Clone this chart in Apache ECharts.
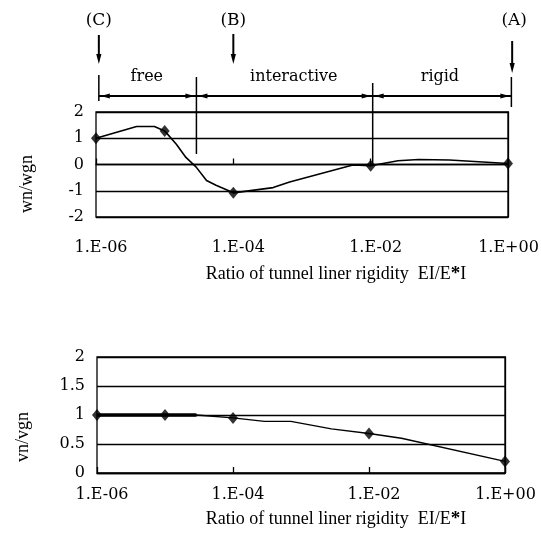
<!DOCTYPE html>
<html><head><meta charset="utf-8">
<script src="https://cdn.jsdelivr.net/npm/echarts@6/dist/echarts.min.js"></script>
<style>html,body{margin:0;padding:0;background:#fff}#c{width:541px;height:551px}</style>
</head><body><div id="c"></div>
<script>
// ---- data ----
const xTickLabels = ['1.E-06', '1.E-04', '1.E-02', '1.E+00'];
const xTickRatios = [1e-6, 1e-4, 1e-2, 1];
const markerRatios = [1e-6, 1e-5, 1e-4, 1e-2, 1];
const wnMarkers = [1.0, 1.28, -1.08, -0.05, 0.04];
const vnMarkers = [1.0, 1.0, 0.95, 0.68, 0.2];
const wnCurveRatios = [1e-6, 3.9e-6, 7.1e-6, 1e-5, 1.48e-5, 2.04e-5, 2.88e-5, 4.07e-5, 5.6e-5, 1e-4, 3.8e-4, 6.6e-4, 5.5e-3, 1e-2, 2.5e-2, 5.0e-2, 0.14, 1];
const wnCurve = [1.0, 1.45, 1.45, 1.28, 0.77, 0.27, -0.1, -0.61, -0.79, -1.08, -0.88, -0.67, -0.02, -0.05, 0.14, 0.19, 0.17, 0.04];
const vnCurveRatios = [1e-6, 1e-5, 2.9e-5, 1e-4, 2.9e-4, 7.1e-4, 2.8e-3, 1e-2, 3.0e-2, 1];
const vnCurve = [1.0, 1.0, 1.0, 0.95, 0.89, 0.89, 0.76, 0.68, 0.60, 0.2];
const vnThickRatios = [1e-6, 2.9e-5];
const vnThick = [1.0, 1.0];
// annotation (data space of the top chart)
const zoneBounds = [1.1e-6, 2.9e-5, 1.07e-2, 1.12];
const zoneNames = ['free', 'interactive', 'rigid'];
const zoneNameRatios = [5.5e-6, 7.6e-4, 0.102];
const dividerBottoms = [0.4, 0.0];
const stateNames = ['(C)', '(B)', '(A)'];
const stateRatios = [1.1e-6, 1e-4, 1.15];
const xTitle = 'Ratio of tunnel liner rigidity';
const topYTitle = 'wn/wgn';
const bottomYTitle = 'vn/vgn';

// ---- build ----
const L = Math.log10;
const pairs = (xs, ys) => xs.map((x, i) => [L(x), ys[i]]);
const tickFmt = v => {
  const i = xTickRatios.findIndex(r => Math.abs(L(r) - v) < 1e-6);
  if (i < 0) return '';
  return (i === xTickLabels.length - 1 ? '{e|' : '{a|') + xTickLabels[i] + '}';
};
const black = '#000';
const serif = '"DejaVu Serif", serif';
const serif2 = '"Liberation Serif", serif';

function xAx(gi, margin) {
  return {
    type: 'value', gridIndex: gi, min: L(xTickRatios[0]), max: L(xTickRatios[xTickRatios.length - 1]), interval: 2,
    axisLine: {show: true, lineStyle: {color: black, width: 1.3}},
    axisTick: {show: true, inside: true, length: 6, lineStyle: {color: black, width: 1.3}},
    axisLabel: {
      formatter: tickFmt, color: black, fontFamily: serif, fontSize: 16, margin: margin,
      rich: {
        a: {fontFamily: serif, fontSize: 16, color: black, padding: [0, 0, 0, 10]},
        e: {fontFamily: serif, fontSize: 16, color: black, padding: [0, 0, 0, 1]}
      }
    },
    splitLine: {show: false}
  };
}
function yAx(gi, min, max, interval) {
  return {
    type: 'value', gridIndex: gi, min: min, max: max, interval: interval,
    axisLine: {show: true, lineStyle: {color: black, width: 1.3}},
    axisTick: {show: false},
    axisLabel: {color: black, fontFamily: serif, fontSize: 16, margin: 12},
    splitLine: {show: true, lineStyle: {color: black, width: 1.3}}
  };
}

const chart = echarts.init(document.getElementById('c'), null, {renderer: 'canvas'});
const option = {
  animation: false,
  backgroundColor: '#fff',
  grid: [
    {left: 96, right: 33, top: 112, height: 105, show: true, borderColor: black, borderWidth: 1.3, containLabel: false, outerBoundsMode: 'none'},
    {left: 97, right: 36, top: 357, height: 116, show: true, borderColor: black, borderWidth: 1.3, containLabel: false, outerBoundsMode: 'none'}
  ],
  xAxis: [xAx(0, 23), xAx(1, 14)],
  yAxis: [yAx(0, -2, 2, 1), yAx(1, 0, 2, 0.5)],
  series: [
    {type: 'line', xAxisIndex: 0, yAxisIndex: 0, data: pairs(wnCurveRatios, wnCurve), showSymbol: false, lineStyle: {color: black, width: 1.6}},
    {type: 'scatter', xAxisIndex: 0, yAxisIndex: 0, data: pairs(markerRatios, wnMarkers), symbol: 'diamond', symbolSize: [10, 12], itemStyle: {color: black}},
    {type: 'line', xAxisIndex: 1, yAxisIndex: 1, data: pairs(vnCurveRatios, vnCurve), showSymbol: false, lineStyle: {color: black, width: 1.4}},
    {type: 'line', xAxisIndex: 1, yAxisIndex: 1, data: pairs(vnThickRatios, vnThick), showSymbol: false, lineStyle: {color: black, width: 3.5}},
    {type: 'scatter', xAxisIndex: 1, yAxisIndex: 1, data: pairs(markerRatios, vnMarkers), symbol: 'diamond', symbolSize: [10, 12], itemStyle: {color: black}}
  ]
};
chart.setOption(option);

// ---- annotations ----
const px = (r, y, gi) => chart.convertToPixel({gridIndex: gi || 0}, [L(r), y == null ? 0 : y]);
const g = [];
const line = (x1, y1, x2, y2, w) => g.push({type: 'line', shape: {x1, y1, x2, y2}, style: {stroke: black, lineWidth: w || 1.5}});
const poly = pts => g.push({type: 'polygon', shape: {points: pts}, style: {fill: black}});
const text = (x, y, t, font, extra) => g.push(Object.assign({type: 'text', x, y, style: {text: t, font: font, fill: black, align: 'center', verticalAlign: 'middle'}}, extra || {}));

const arrowY = 96;
const bx = zoneBounds.map(r => px(r)[0]);
// horizontal dimension line
line(bx[0], arrowY, bx[3], arrowY, 1.8);
// end ticks
line(bx[0], 75, bx[0], 101, 1.5);
line(bx[3], 77, bx[3], 107, 1.5);
// dividers
[1, 2].forEach((k, j) => {
  const yb = px(zoneBounds[k], dividerBottoms[j])[1];
  line(bx[k], k === 1 ? 77 : 83, bx[k], yb, 1.5);
});
// arrowheads pointing to bounds
for (let k = 0; k < 3; k++) {
  const a = bx[k], b = bx[k + 1];
  poly([[a + 2, arrowY], [a + 11, arrowY - 2.4], [a + 11, arrowY + 2.4]]);
  poly([[b - 2, arrowY], [b - 11, arrowY - 2.4], [b - 11, arrowY + 2.4]]);
  text(px(zoneNameRatios[k])[0], 77, zoneNames[k], '16px ' + serif);
}
// state arrows
const arrowTop = [35, 34, 41], arrowTip = [64, 64, 73];
stateNames.forEach((s, i) => {
  const x = px(stateRatios[i])[0];
  text(x + (i === 2 ? 2 : 0), 21, s, '17px ' + serif);
  line(x, arrowTop[i], x, arrowTip[i] - 8, 2);
  poly([[x - 2.6, arrowTip[i] - 10], [x + 2.6, arrowTip[i] - 10], [x, arrowTip[i]]]);
});
// axis titles
const richTitle = y => ({
  type: 'text', x: 336, y: y,
  style: {
    text: xTitle + '  EI/E{s|*}I', font: '18px ' + serif2, fill: black, align: 'center', verticalAlign: 'middle',
    rich: {s: {fontSize: 19, fontWeight: 'bold', fontFamily: serif2, lineHeight: 10, verticalAlign: 'top', fill: black}}
  }
});
g.push(richTitle(274));
g.push(richTitle(519));
text(27, 184, topYTitle, '18px ' + serif2, {rotation: Math.PI / 2});
text(23, 437, bottomYTitle, '18px ' + serif2, {rotation: Math.PI / 2});

chart.setOption({graphic: {elements: g}});
</script>
</body></html>
